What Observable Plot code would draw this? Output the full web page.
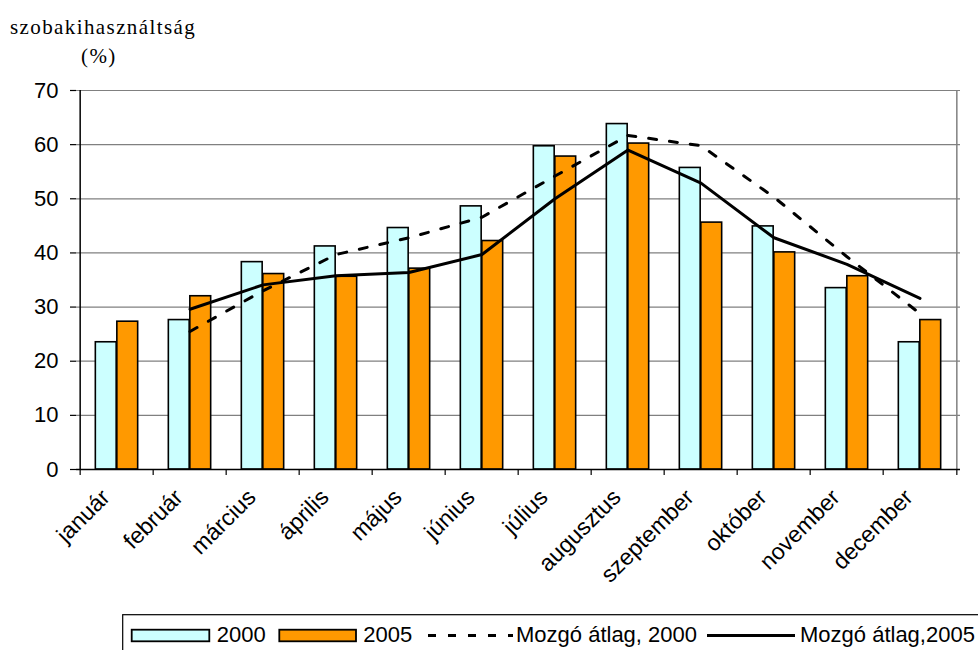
<!DOCTYPE html>
<html><head><meta charset="utf-8">
<script src="https://cdn.jsdelivr.net/npm/d3@7"></script>
<script src="https://cdn.jsdelivr.net/npm/@observablehq/plot@0.6"></script>
<style>
body{margin:0;background:#fff;}
#wrap{position:relative;width:978px;height:650px;overflow:hidden;background:#fff;}
#chart{position:absolute;left:0;top:0;}
#over{position:absolute;left:0;top:0;pointer-events:none;}
</style></head>
<body><div id="wrap"><div id="chart"></div>
<svg id="over" width="978" height="650">
  <g font-family="'Liberation Serif','Times New Roman',serif" font-size="21" letter-spacing="1.4" fill="black">
    <text id="t1" x="10" y="34"></text>
    <text id="t2" x="81" y="63"></text>
  </g>
  <g id="legend" font-family="'Liberation Sans',Arial,sans-serif" font-size="22" fill="black"></g>
</svg>
</div>
<script>
const months = ["január","február","március","április","május","június","július","augusztus","szeptember","október","november","december"];
const v2000 = [23.5,27.6,38.3,41.2,44.6,48.6,59.7,63.8,55.7,44.9,33.5,23.5];
const v2005 = [27.3,32.0,36.1,35.6,37.1,42.2,57.8,60.2,45.6,40.1,35.7,27.6];
const ma2000 = [null,25.5,33.0,39.7,42.8,46.6,54.2,61.7,59.8,50.3,39.3,28.8];
const ma2005 = [null,29.6,34.1,35.8,36.4,39.7,50.0,59.0,52.9,42.8,37.9,31.6];
const yTicks = [0,10,20,30,40,50,60,70];
const yTitle = "szobakihasználtság";
const yUnit = "(%)";
const legendLabels = ["2000","2005","Mozgó átlag, 2000","Mozgó átlag,2005"];
const colors = {c2000:"#CCFFFF", c2005:"#FF9900"};

const W=978, H=600, ML=76, MR=18, MT=90, MB=131;
const bw = (W-ML-MR)/months.length;
const barW = 21.5;
const plotH = H-MT-MB;

const d2000 = months.map((m,i)=>({month:m, value:v2000[i]}));
const d2005 = months.map((m,i)=>({month:m, value:v2005[i]}));
const dm2000 = months.map((m,i)=>({month:m, value:ma2000[i]})).filter(d=>d.value!=null);
const dm2005 = months.map((m,i)=>({month:m, value:ma2005[i]})).filter(d=>d.value!=null);

const sans = "'Liberation Sans',Arial,sans-serif";

const chart = Plot.plot({
  width:W, height:H, marginLeft:ML, marginRight:MR, marginTop:MT, marginBottom:MB,
  style:{fontFamily:sans, background:"transparent", color:"black", overflow:"visible"},
  x:{type:"band", domain:months, padding:0, axis:null},
  y:{domain:[0,70], axis:null},
  marks:[
    Plot.gridY(yTicks.slice(1), {stroke:"#808080", strokeOpacity:1, strokeWidth:1.2}),
    Plot.ruleX([months[months.length-1]], {x:d=>d, dx:bw/2, stroke:"#808080", strokeWidth:1.5}),
    Plot.barY(d2000, {x:"month", y:"value", fill:colors.c2000, stroke:"black", strokeWidth:1.6, insetLeft:bw/2-barW, insetRight:bw/2}),
    Plot.barY(d2005, {x:"month", y:"value", fill:colors.c2005, stroke:"black", strokeWidth:1.6, insetLeft:bw/2, insetRight:bw/2-barW}),
    Plot.line(dm2000, {x:"month", y:"value", stroke:"black", strokeWidth:3, strokeDasharray:"8,13"}),
    Plot.line(dm2005, {x:"month", y:"value", stroke:"black", strokeWidth:3}),
    Plot.ruleY([0], {stroke:"black", strokeWidth:1.5}),
    Plot.ruleX([months[0]], {x:d=>d, dx:-bw/2, stroke:"black", strokeWidth:1.5}),
    Plot.ruleX(months, {x:d=>d, dx:-bw/2, insetTop:plotH, insetBottom:-6, stroke:"black", strokeWidth:1.2}),
    Plot.ruleX([months[months.length-1]], {x:d=>d, dx:bw/2, insetTop:plotH, insetBottom:-6, stroke:"black", strokeWidth:1.2}),
    Plot.axisY(yTicks, {label:null, tickSize:6, tickPadding:12, fontSize:22, fontFamily:sans, stroke:"black", strokeWidth:1.2}),
    Plot.text(months, {x:d=>d, frameAnchor:"bottom", dx:-11, dy:24, rotate:-45, textAnchor:"end", lineAnchor:"middle", fontSize:23, fontFamily:sans, fill:"black"})
  ]
});
document.getElementById("chart").appendChild(chart);

document.getElementById("t1").textContent = yTitle;
document.getElementById("t2").textContent = yUnit;

// legend
const ns="http://www.w3.org/2000/svg";
const lg=document.getElementById("legend");
function el(tag, attrs, text){const e=document.createElementNS(ns,tag);for(const k in attrs)e.setAttribute(k,attrs[k]);if(text!=null)e.textContent=text;lg.appendChild(e);return e;}
el("rect",{x:122.7,y:614.7,width:870,height:60,fill:"white",stroke:"black","stroke-width":1.2});
el("rect",{x:131.7,y:629.7,width:77.6,height:11.6,fill:colors.c2000,stroke:"black","stroke-width":1.8});
el("text",{x:216.7,y:641.5},legendLabels[0]);
el("rect",{x:279.3,y:629.7,width:76.7,height:11.6,fill:colors.c2005,stroke:"black","stroke-width":1.8});
el("text",{x:363.3,y:641.5},legendLabels[1]);
el("line",{x1:428,x2:513,y1:635.5,y2:635.5,stroke:"black","stroke-width":3,"stroke-dasharray":"8,12"});
el("text",{x:516,y:641.5},legendLabels[2]);
el("line",{x1:707,x2:795,y1:635.5,y2:635.5,stroke:"black","stroke-width":3});
el("text",{x:800,y:641.5},legendLabels[3]);
</script>
</body></html>
